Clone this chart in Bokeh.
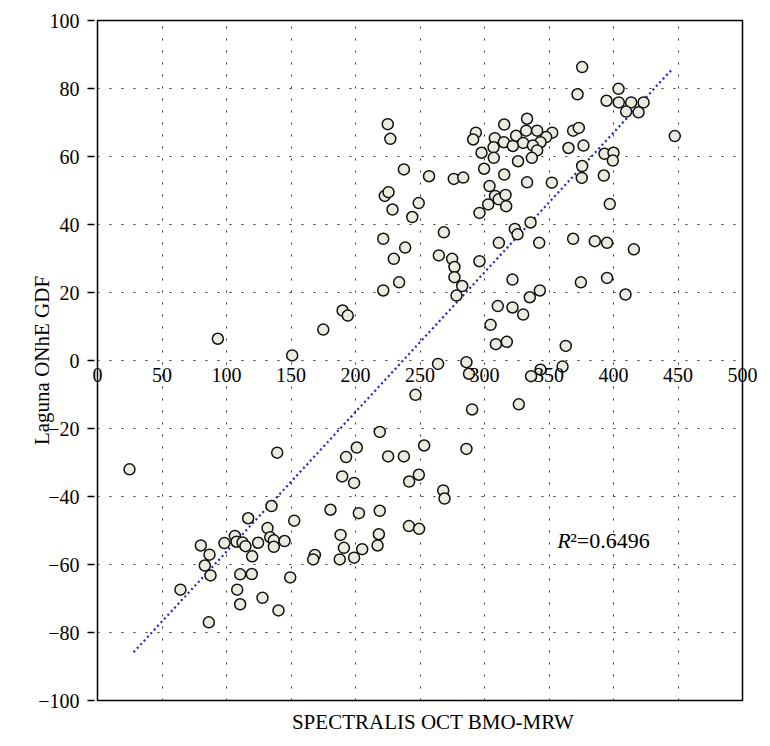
from bokeh.plotting import figure
from bokeh.models import (Label, LabelSet, FixedTicker, Range1d, ColumnDataSource,
                          Title, LinearAxis)
from bokeh.embed import file_html
from bokeh.resources import INLINE

# ---- data ----
bmo_mrw = [
    375.7, 372.1, 403.9, 394.6, 404.1, 413.7, 423.3, 409.8, 419.4, 447.5,
    368.7, 373.1, 365.1, 376.7, 393.0, 400.0, 399.5, 375.7, 375.4, 392.5,
    397.1, 225.0, 227.0, 237.5, 257.0, 276.2, 283.5, 222.7, 225.6, 249.0,
    293.3, 291.2, 315.3, 333.0, 308.0, 315.0, 307.0, 297.7, 307.2, 322.0,
    324.5, 332.3, 340.8, 352.5, 347.8, 343.4, 330.0, 337.5, 340.8, 336.7,
    326.0, 299.7, 315.3, 333.0, 352.2, 303.9, 308.2, 311.0, 316.3, 316.8,
    302.9, 296.1, 228.7, 244.0,
    268.5, 221.5, 238.5, 229.7, 233.8, 221.5, 264.6, 274.9, 276.7, 276.7,
    282.7, 278.3, 296.1, 311.1, 323.5, 325.6, 335.7, 342.4, 321.7, 342.9,
    335.1, 310.3, 321.7, 330.0, 304.7, 308.8, 317.3, 368.7, 385.5, 395.0,
    415.8, 374.7, 395.0, 409.3, 363.0, 360.5, 264.0, 286.0, 288.0, 336.1,
    343.4, 246.5, 290.4, 326.6, 93.3, 150.9, 175.0, 190.0, 194.0, 24.8,
    139.3, 218.8, 201.0, 192.7, 225.3, 237.5, 253.2, 189.7, 198.9, 241.6,
    249.1, 268.0, 269.0, 286.0, 134.9, 180.6, 202.6, 218.8, 116.8, 152.5,
    131.8, 133.9, 241.4, 249.3, 188.4, 218.1, 106.5, 107.8, 112.4, 98.4,
    80.1, 124.5, 136.7, 145.0, 114.7, 136.7, 217.1, 191.0, 205.2, 168.5,
    167.2, 187.8, 198.9, 86.8, 83.2, 87.6, 119.9, 110.6, 119.6, 64.3,
    108.3, 110.6, 127.9, 140.3, 86.3, 149.4,
]
laguna_gdf = [
    86.3, 78.3, 79.9, 76.4, 75.9, 75.9, 75.9, 73.2, 73.0, 66.0,
    67.6, 68.4, 62.5, 63.2, 60.8, 61.1, 58.8, 57.2, 53.7, 54.4,
    46.0, 69.5, 65.2, 56.2, 54.2, 53.4, 53.8, 48.4, 49.5, 46.3,
    67.0, 65.0, 69.4, 71.1, 65.4, 64.2, 62.7, 61.1, 59.6, 63.1,
    66.1, 67.6, 67.6, 67.0, 65.7, 64.2, 64.0, 63.2, 61.8, 59.6,
    58.6, 56.4, 54.7, 52.4, 52.3, 51.3, 48.4, 47.4, 48.7, 45.4,
    45.9, 43.4, 44.4, 42.2,
    37.7, 35.8, 33.2, 29.9, 23.0, 20.6, 30.9, 29.9, 27.5, 24.5,
    21.9, 19.1, 29.2, 34.6, 38.7, 37.1, 40.6, 34.6, 23.8, 20.6,
    18.6, 16.0, 15.6, 13.5, 10.5, 4.8, 5.5, 35.8, 35.1, 34.6,
    32.7, 23.0, 24.3, 19.4, 4.3, -1.8, -1.0, -0.5, -3.9, -4.6,
    -2.7, -10.1, -14.4, -12.9, 6.4, 1.5, 9.1, 14.7, 13.2, -32.0,
    -27.1, -21.0, -25.6, -28.4, -28.2, -28.2, -25.0, -34.1, -36.0, -35.6,
    -33.6, -38.2, -40.6, -26.0, -42.8, -43.9, -44.9, -44.2, -46.4, -47.1,
    -49.3, -52.0, -48.7, -49.5, -51.3, -51.1, -51.6, -53.3, -53.5, -53.7,
    -54.4, -53.6, -52.9, -53.1, -54.6, -54.8, -54.4, -55.1, -55.5, -57.2,
    -58.5, -58.5, -58.0, -57.1, -60.3, -63.2, -57.6, -62.9, -62.8, -67.4,
    -67.4, -71.7, -69.8, -73.5, -77.0, -63.8,
]
trend_x = [28.0, 445.0]
trend_y = [-85.8, 85.5]
x_ticks = [0, 50, 100, 150, 200, 250, 300, 350, 400, 450, 500]
x_tick_labels = [str(t) for t in x_ticks]
y_ticks = [-100, -80, -60, -40, -20, 0, 20, 40, 60, 80, 100]
y_tick_labels = ["\u2212100", "\u221280", "\u221260", "\u221240", "\u221220",
                 "0", "20", "40", "60", "80", "100"]
r2_text = "\u00b2=0.6496"
x_title = "SPECTRALIS OCT BMO-MRW"
y_title = "Laguna ONhE GDF"

FONT = "Liberation Serif"
LABEL_ROW = -4.2   # data y of the centre of the x tick-label row (just under y = 0)

p = figure(frame_width=645, frame_height=680,
           x_range=Range1d(0, 500), y_range=Range1d(-100, 100),
           output_backend="svg", toolbar_location=None,
           min_border_left=97, min_border_top=20,
           min_border_right=28, min_border_bottom=46)
p.background_fill_color = "white"
p.border_fill_color = "white"
p.outline_line_color = "black"
p.outline_line_width = 1.5
p.outline_line_alpha = 1.0

# grids
p.xgrid.ticker = FixedTicker(ticks=x_ticks)
p.ygrid.ticker = FixedTicker(ticks=y_ticks)
for g in (p.xgrid, p.ygrid):
    g.grid_line_color = "#333333"
    g.grid_line_dash = "2 10"
    g.grid_line_width = 1

# x axis hidden; its tick labels sit just under the y = 0 line
p.xaxis.visible = False
inner = slice(1, len(x_ticks) - 1)
xsrc = ColumnDataSource(dict(x=x_ticks[inner], y=[LABEL_ROW] * len(x_ticks[inner]),
                             t=x_tick_labels[inner]))
p.add_layout(LabelSet(x="x", y="y", text="t", source=xsrc,
                      text_align="center", text_baseline="middle",
                      text_font=FONT, text_font_size="20px",
                      text_color="black"))


def edge_axis(text, standoff):
    return LinearAxis(ticker=FixedTicker(ticks=[LABEL_ROW]),
                      major_label_overrides={LABEL_ROW: text},
                      axis_line_color=None, major_tick_line_color=None,
                      minor_tick_line_color=None, major_tick_out=0,
                      major_tick_in=0, major_label_standoff=standoff,
                      major_label_text_font=FONT,
                      major_label_text_font_size="20px",
                      major_label_text_color="black")


# the two end labels straddle the frame edges: drawn by thin side axes
zero_axis = edge_axis(x_tick_labels[0], -5)
end_axis = edge_axis(x_tick_labels[-1], -15)

# y axis
ya = p.yaxis[0]
ya.ticker = FixedTicker(ticks=y_ticks)
ya.major_label_overrides = {t: s for t, s in zip(y_ticks, y_tick_labels)}
ya.axis_line_color = None
ya.major_tick_line_color = "black"
ya.major_tick_line_width = 1.5
ya.major_tick_out = 2
ya.major_tick_in = 5
ya.minor_tick_line_color = None
ya.major_label_standoff = 8
ya.major_label_text_font = FONT
ya.major_label_text_font_size = "20px"
ya.major_label_text_color = "black"
ya.axis_label = y_title
ya.axis_label_text_font = FONT
ya.axis_label_text_font_size = "21px"
ya.axis_label_text_font_style = "normal"
ya.axis_label_text_color = "black"
ya.axis_label_standoff = -19

p.left = [zero_axis, ya]
p.add_layout(end_axis, "right")

# x title below the frame (leading no-break spaces nudge it right)
p.add_layout(Title(text="\u00a0" * 5 + x_title, align="center", standoff=15,
                   text_font=FONT, text_font_size="21px",
                   text_font_style="normal", text_color="black"), "below")

# trend line
p.line(trend_x, trend_y, line_color="#2323c8", line_width=2.2,
       line_dash="2 3")

# points
p.scatter(bmo_mrw, laguna_gdf, size=11, marker="circle",
          fill_color="#ebebe0", line_color="#111111", line_width=1.5)

# R^2 annotation
p.add_layout(Label(x=356.4, y=-52.9, text="R", text_font=FONT,
                   text_font_size="22px", text_font_style="italic",
                   text_baseline="alphabetic", text_color="black"))
p.add_layout(Label(x=356.4, y=-52.9, x_offset=13, text=r2_text,
                   text_font=FONT, text_font_size="22px",
                   text_baseline="alphabetic", text_color="black"))

open("out.html", "w").write(file_html(p, INLINE))
